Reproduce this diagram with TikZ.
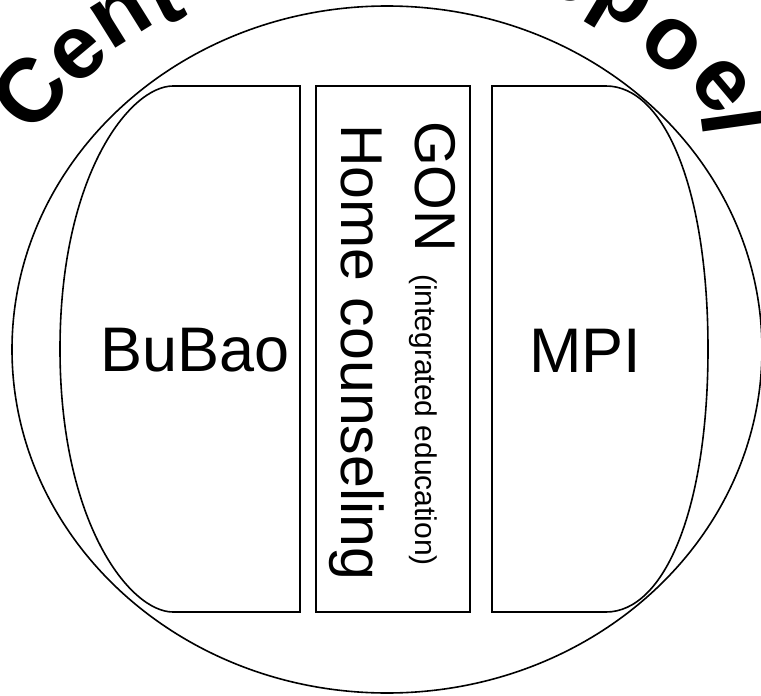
\documentclass[tikz,border=0pt]{standalone}
\usepackage{fontspec}
\setmainfont{Liberation Sans}
\begin{document}
\begin{tikzpicture}[x=1pt,y=-1pt,
  outline/.style={draw=black, line width=1.6pt},
  arch/.style={font=\fontsize{90}{90}\selectfont\bfseries, inner sep=0pt, anchor=center},
  bigtxt/.style={font=\fontsize{63}{63}\selectfont, inner sep=0pt},
  vtxt/.style={inner sep=0pt, rotate=-90, anchor=base west}]
\useasboundingbox (0,0) rectangle (761,696);
\fill[white] (0,0) rectangle (761,696);
\clip (0,0) rectangle (761,696);
% outer ellipse
\draw[outline] (387,349.5) ellipse [x radius=375pt, y radius=343.5pt];
% BuBao box
\draw[outline] (300,86) -- (173,86) .. controls (130,86) and (60,175) .. (60,349)
  .. controls (60,523) and (130,612) .. (173,612) -- (300,612) -- cycle;
% middle box
\draw[outline] (316,86) rectangle (470,612);
% MPI box
\draw[outline] (492,86) -- (606,86) .. controls (665,86) and (708,190) .. (708,349)
  .. controls (708,508) and (665,612) .. (606,612) -- (492,612) -- cycle;
% texts
\node[bigtxt] (bubao) at (195,350.5) {BuBao};
\node[bigtxt] (mpi) at (585,350.5) {MPI};
\node[vtxt, font=\fontsize{59}{59}\selectfont] (home) at (341,124) {Home counseling};
\node[vtxt] (gon) at (415,121) {\fontsize{57.5}{58}\selectfont GON\hspace{6pt} \fontsize{30}{30}\selectfont(integrated education)};
% arched title
\node[arch, rotate=50] (lC) at (30,92) {C};
\node[arch, rotate=40] (le1) at (78,54) {e};
\node[arch, rotate=32] (ln) at (121,16) {n};
\node[arch, rotate=27] (lt) at (163,-4) {t};
\node[arch, rotate=-25] (ls) at (568,-24) {s};
\node[arch, rotate=-31] (lp) at (620,4) {p};
\node[arch, rotate=-38] (lo) at (672,45) {o};
\node[arch, rotate=-50] (le2) at (721,85) {e};
\node[arch, rotate=-82] (ll) at (735,121) {l};
\end{tikzpicture}
\end{document}
